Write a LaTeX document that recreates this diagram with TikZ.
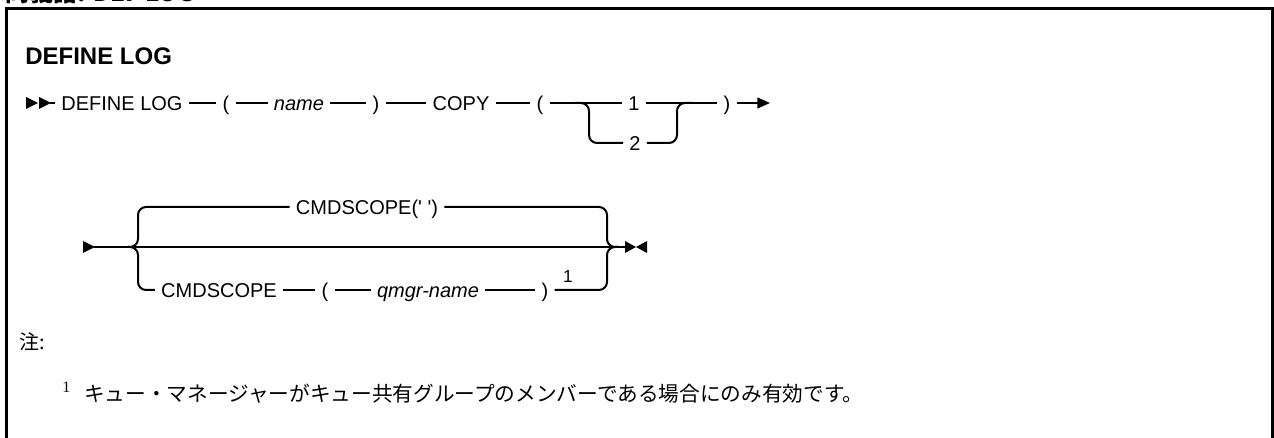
\documentclass[tikz,border=0pt]{standalone}
\usepackage{fontspec}
\setmainfont{Liberation Sans}
\newfontfamily\cjk{Noto Sans CJK JP}
\newfontfamily\serifnum{Liberation Serif}
\usetikzlibrary{arrows.meta}
\begin{document}
\begin{tikzpicture}[x=0.75pt,y=-0.75pt,
  rail/.style={line width=1.5pt},
  brc/.style={rail, rounded corners=6pt},
  t/.style={font=\fontsize{15}{18}\selectfont, inner xsep=4.5pt, inner ysep=0pt, text height=10.7pt, text depth=0pt},
  ti/.style={t, font=\fontsize{15}{18}\selectfont\itshape},
  supnum/.style={font=\fontsize{13}{15}\selectfont, inner sep=0pt},
  head/.style={fill=black}]
\useasboundingbox (0,0) rectangle (1274,438);
\begin{scope}
\clip (0,0) rectangle (1274,438);
% caption above the frame, cut off by the top edge
\node[anchor=base west, inner sep=0pt, font=\cjk\bfseries\fontsize{18}{21}\selectfont] (cap) at (5,2) {同義語: DEF LOG};
% frame
\draw[line width=2.25pt] (6.5,450) -- (6.5,8.5) -- (1272.5,8.5) -- (1272.5,450);
\end{scope}

% heading
\node[anchor=base west, inner sep=0pt, font=\bfseries\fontsize{18}{21}\selectfont] (title) at (25,65) {DEFINE LOG};

% ---------- row 1 ----------
\fill[head] (26,97) -- (38,103) -- (26,109) -- cycle;
\fill[head] (39,97) -- (51,103) -- (39,109) -- cycle;
\coordinate (s1) at (50,103);
\node[t] (define) at (122,103) {DEFINE LOG};
\node[t] (lp1) at (226,103) {(};
\node[ti] (name) at (299,103) {name};
\node[t] (rp1) at (376,103) {)};
\node[t] (copy) at (461,103) {COPY};
\node[t] (lp2) at (540,103) {(};
\node[t] (one) at (634,103) {1};
\node[t] (two) at (635,143) {2};
\node[t] (rp2) at (727,103) {)};
\coordinate (e1) at (770,103);
\coordinate (b1) at (575,103);
\coordinate (b2) at (692,103);
\draw[rail] (s1) -- (define) -- (lp1) -- (name) -- (rp1) -- (copy) -- (lp2) -- (one) -- (rp2);
\draw[rail, -{Triangle[length=9.5pt,width=8pt]}] (rp2) -- (e1);
\draw[brc] (b1) -- (589,103) -- (589,143) -- (two.west);
\draw[brc] (two.east) -- (677,143) -- (677,103) -- (b2);

% ---------- row 2 ----------
\fill[head] (83,241) -- (95,247) -- (83,253) -- cycle;
\coordinate (s2) at (94,247);
\coordinate (e2) at (626,247);
\fill[head] (625,241) -- (636,247) -- (625,253) -- cycle;
\fill[head] (647,241) -- (636,247) -- (647,253) -- cycle;
\draw[rail] (s2) -- (e2);
\node[t] (cmdq) at (367,207) {CMDSCOPE(\textquotesingle\ \textquotesingle)};
\node[t] (cmd) at (219,290) {CMDSCOPE};
\node[t] (lp3) at (325,290) {(};
\node[ti] (qm) at (428,290) {qmgr-name};
\node[t] (rp3) at (545,290) {)};
\node[supnum] (n1) at (568,277) {1};
\coordinate (l2) at (128,247);
\coordinate (r2) at (618,247);
\draw[brc] (l2) -- (138,247) -- (138,207) -- (cmdq.west);
\draw[brc] (cmdq.east) -- (607,207) -- (607,247) -- (r2);
\draw[brc] (l2) -- (138,247) -- (138,290) -- (cmd.west);
\draw[rail] (cmd) -- (lp3) -- (qm) -- (rp3);
\draw[brc] (rp3.east) -- (607,290) -- (607,247) -- (r2);

% ---------- notes ----------
\node[anchor=west, inner sep=0pt, font=\cjk\fontsize{15}{18}\selectfont] (note) at (19,342) {注:};
\node[anchor=west, inner sep=0pt, font=\serifnum\fontsize{12}{14}\selectfont] (fnum) at (62,387) {1};
\node[anchor=west, inner sep=0pt, font=\cjk\fontsize{15.5}{18}\selectfont] (fn) at (84,394) {キュー・マネージャーがキュー共有グループのメンバーである場合にのみ有効です。};
\end{tikzpicture}
\end{document}
